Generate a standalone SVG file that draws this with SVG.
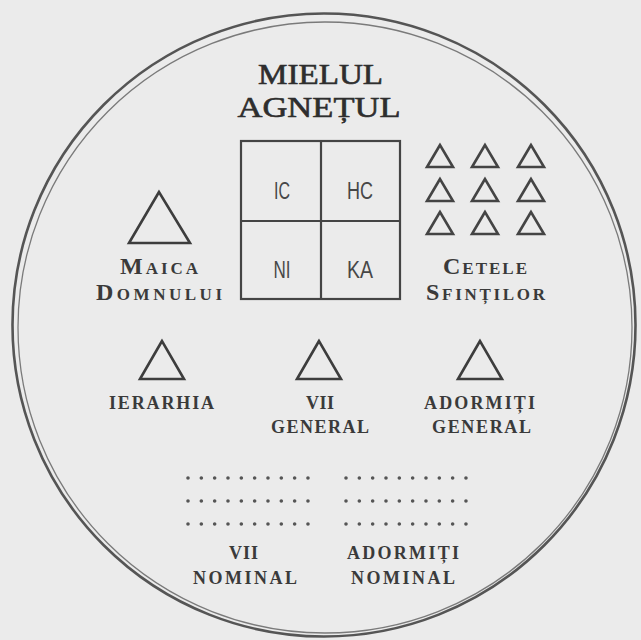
<svg xmlns="http://www.w3.org/2000/svg" width="641" height="640" viewBox="0 0 641 640">
<style>
.bg{fill:#ebebeb}
.ring1{fill:none;stroke:#555;stroke-width:2.6}
.ring2{fill:none;stroke:#7a7a7a;stroke-width:1.3}
.tri{fill:none;stroke:#3d3d3d;stroke-width:2.6;stroke-linejoin:miter}
.tris{fill:none;stroke:#444;stroke-width:2.6;stroke-linejoin:miter}
.box{fill:none;stroke:#444;stroke-width:2.2}
.title{font-family:"Liberation Serif",serif;font-size:29px;fill:#2e2e2e;stroke:#2e2e2e;stroke-width:0.6;text-anchor:middle}
.lbl{font-family:"Liberation Serif",serif;font-weight:bold;font-size:18px;fill:#3a3a3a;text-anchor:middle}
.sc{font-family:"Liberation Serif",serif;font-weight:bold;font-size:17px;fill:#3a3a3a;text-anchor:middle}
.big{font-size:24px}
.gr{font-family:"Liberation Sans",sans-serif;font-size:23px;fill:#474747;text-anchor:middle}
.dots{stroke:#555;stroke-width:3.6;stroke-linecap:round;stroke-dasharray:0 13.33}
</style>
<rect class="bg" x="0" y="0" width="641" height="640"/>
<g id="frame">
<circle class="ring1" cx="324" cy="325" r="311.5"/>
<ellipse class="ring2" cx="325" cy="327.5" rx="307" ry="305.5"/>
</g>
<g id="connectors"></g>
<g id="mielul">
<text class="title" x="320.5" y="84" textLength="125" lengthAdjust="spacingAndGlyphs">MIELUL</text>
<text class="title" x="319" y="116.5" textLength="163" lengthAdjust="spacingAndGlyphs">AGNEȚUL</text>
<rect class="box" x="241" y="141" width="159" height="158"/>
<line class="box" x1="321" y1="141" x2="321" y2="299"/>
<line class="box" x1="241" y1="221" x2="400" y2="221"/>
<text class="gr" x="282" y="199" textLength="16" lengthAdjust="spacingAndGlyphs">IC</text>
<text class="gr" x="360" y="199" textLength="26" lengthAdjust="spacingAndGlyphs">HC</text>
<text class="gr" x="282" y="278" textLength="17" lengthAdjust="spacingAndGlyphs">NI</text>
<text class="gr" x="360" y="278" textLength="26" lengthAdjust="spacingAndGlyphs">KA</text>
</g>
<g id="maica">
<polygon class="tri" points="159,192 129,243 190,243"/>
<text class="sc" x="159" y="274" textLength="78"><tspan class="big">M</tspan>AICA</text>
<text class="sc" x="159" y="300" textLength="126"><tspan class="big">D</tspan>OMNULUI</text>
</g>
<g id="cetele">
<polygon class="tris" points="440,145 427,167 453,167"/>
<polygon class="tris" points="485,145 472,167 498,167"/>
<polygon class="tris" points="531,145 518,167 544,167"/>
<polygon class="tris" points="440,179 427,201 453,201"/>
<polygon class="tris" points="485,179 472,201 498,201"/>
<polygon class="tris" points="531,179 518,201 544,201"/>
<polygon class="tris" points="440,212 427,234 453,234"/>
<polygon class="tris" points="485,212 472,234 498,234"/>
<polygon class="tris" points="531,212 518,234 544,234"/>
<text class="sc" x="485" y="274" textLength="84"><tspan class="big">C</tspan>ETELE</text>
<text class="sc" x="485.5" y="300" textLength="119"><tspan class="big">S</tspan>FINȚILOR</text>
</g>
<g id="ierarhia">
<polygon class="tri" points="162,341 140,379 184,379"/>
<text class="lbl" x="161.5" y="409" textLength="105">IERARHIA</text>
</g>
<g id="vii-general">
<polygon class="tri" points="319,341 297,379 341,379"/>
<text class="lbl" x="320" y="409" textLength="28">VII</text>
<text class="lbl" x="320" y="433" textLength="98">GENERAL</text>
</g>
<g id="adormiti-general">
<polygon class="tri" points="480,341 458,379 502,379"/>
<text class="lbl" x="479.5" y="409" textLength="111">ADORMIȚI</text>
<text class="lbl" x="481.5" y="433" textLength="99">GENERAL</text>
</g>
<g id="vii-nominal">
<line class="dots" x1="188" y1="478" x2="310" y2="478"/>
<line class="dots" x1="188" y1="501" x2="310" y2="501"/>
<line class="dots" x1="188" y1="524" x2="310" y2="524"/>
<text class="lbl" x="243.5" y="559" textLength="29">VII</text>
<text class="lbl" x="245" y="584" textLength="104">NOMINAL</text>
</g>
<g id="adormiti-nominal">
<line class="dots" x1="346" y1="478" x2="468" y2="478"/>
<line class="dots" x1="346" y1="501" x2="468" y2="501"/>
<line class="dots" x1="346" y1="524" x2="468" y2="524"/>
<text class="lbl" x="403" y="559" textLength="112">ADORMIȚI</text>
<text class="lbl" x="403" y="584" textLength="104">NOMINAL</text>
</g>
</svg>
